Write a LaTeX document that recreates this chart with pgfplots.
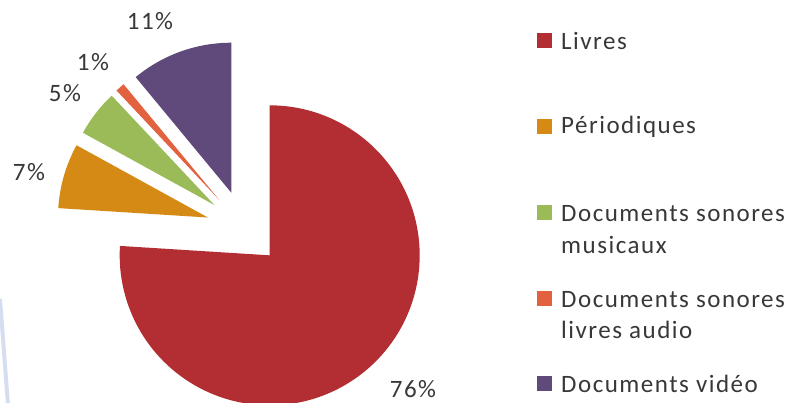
\documentclass[border=0pt]{standalone}
\usepackage{pgfplots}
\pgfplotsset{compat=1.18}
\usepackage{pgfplotstable}
\usepackage{fontspec}
\setmainfont{Carlito}[LetterSpace=6]
\usetikzlibrary{calc}

\definecolor{livres}{RGB}{178,46,50}
\definecolor{period}{RGB}{212,138,20}
\definecolor{musique}{RGB}{155,187,89}
\definecolor{audio}{RGB}{226,97,63}
\definecolor{video}{RGB}{96,74,123}
\definecolor{txt}{RGB}{56,56,56}
\definecolor{bande}{RGB}{212,222,240}

% parts in percent, clockwise from 12 o'clock
\pgfplotstableread{
share color
76 livres
7 period
5 musique
1 audio
11 video
}\piedata

\begin{document}
\begin{tikzpicture}[font=\fontsize{25}{30}\selectfont, text=txt]
\useasboundingbox (0,0) rectangle (792pt,403pt);
\begin{axis}[
    at={(0,0)}, anchor=south west,
    width=792pt, height=403pt, scale only axis,
    xmin=0, xmax=792, ymin=0, ymax=403,
    axis lines=none,
    clip=false,
]
\pgfplotsextra{
    \draw[bande, line width=4pt] (axis cs:0,104) -- (axis cs:8,-2);
    \xdef\a{90}
    \foreach \i in {0,...,4}{
        \pgfplotstablegetelem{\i}{share}\of\piedata \let\v\pgfplotsretval
        \pgfplotstablegetelem{\i}{color}\of\piedata \let\c\pgfplotsretval
        \pgfmathsetmacro\b{\a-3.6*\v}
        \pgfmathsetmacro\m{(\a+\b)/2}
        \fill[\c] ($(axis cs:244,175)+(\m:37.5pt)$) -- ++(\a:150pt)
            arc[start angle=\a, end angle=\b, radius=150pt] -- cycle;
        \xdef\a{\b}
    }
    % percentage labels
    \node at (axis cs:150,382) {11\%};
    \node at (axis cs:93,341) {1\%};
    \node at (axis cs:65,310) {5\%};
    \node at (axis cs:29,231) {7\%};
    \node at (axis cs:413,14) {76\%};
}
\end{axis}

% legend
\begin{scope}[every node/.style={anchor=west, inner sep=0pt}]
\fill[livres]  (537pt,355pt) rectangle ++(15pt,15pt);
\node at (561pt,362pt) {Livres};
\fill[period]  (537pt,269pt) rectangle ++(15pt,15pt);
\node at (561pt,276pt) {Périodiques};
\fill[musique] (537pt,183pt) rectangle ++(15pt,15pt);
\node at (561pt,189pt) {Documents sonores};
\node at (561pt,158pt) {musicaux};
\fill[audio]   (537pt,97pt) rectangle ++(15pt,15pt);
\node at (561pt,103pt) {Documents sonores};
\node at (561pt,73pt) {livres audio};
\fill[video]   (537pt,12pt) rectangle ++(15pt,15pt);
\node at (561pt,19pt) {Documents vidéo};
\end{scope}
\end{tikzpicture}
\end{document}
